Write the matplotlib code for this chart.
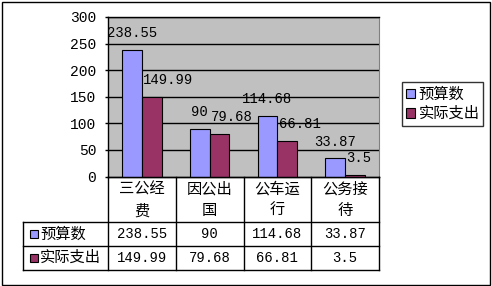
import matplotlib
matplotlib.use("Agg")
import matplotlib.pyplot as plt
from matplotlib.patches import Rectangle, Patch
from matplotlib import transforms

plt.rcParams['font.family'] = ['Noto Sans CJK SC', 'DejaVu Sans']

categories = ["三公经\n费", "因公出\n国", "公车运\n行", "公务接\n待"]
series_names = ["预算数", "实际支出"]
budget = [238.55, 90, 114.68, 33.87]
actual = [149.99, 79.68, 66.81, 3.5]
budget_labels = ["238.55", "90", "114.68", "33.87"]
actual_labels = ["149.99", "79.68", "66.81", "3.5"]
yticks = [0, 50, 100, 150, 200, 250, 300]

BLUE = "#9999FF"
MAROON = "#993366"
GRAY = "#C0C0C0"
NUMFONT = "Liberation Mono"

W, H = 492, 286
fig = plt.figure(figsize=(W / 100, H / 100), dpi=100)


def box(x0, y0, x1, y1):
    """pixel box (top-left origin) -> figure fraction rect"""
    return [x0 / W, 1 - y1 / H, (x1 - x0) / W, (y1 - y0) / H]


# outer chart border
fig.patches.append(Rectangle((1.5 / W, 1 - 285 / H), 488.5 / W, 283.5 / H,
                             transform=fig.transFigure, fill=False,
                             edgecolor="black", linewidth=1.0))

# ---- plot area ----
ax = fig.add_axes(box(108, 17, 379, 176.5))
ax.set_facecolor(GRAY)
ax.set_xlim(-0.5, len(categories) - 0.5)
ax.set_ylim(0, 300)
ax.set_yticks(yticks)
ax.set_yticklabels([str(t) for t in yticks], family=NUMFONT, fontsize=10.5)
ax.tick_params(axis="y", direction="out", length=2.5, width=1, pad=6)
ax.set_xticks([])
for y in yticks[1:]:
    ax.axhline(y, color="black", linewidth=1, zorder=1)
for s in ("left", "bottom", "top"):
    ax.spines[s].set_color("black")
    ax.spines[s].set_linewidth(1)
ax.spines["right"].set_color("#808080")

bw = 0.29
xs = list(range(len(categories)))
ax.bar([x - bw / 2 for x in xs], budget, width=bw, color=BLUE,
       edgecolor="black", linewidth=0.8, zorder=3)
ax.bar([x + bw / 2 for x in xs], actual, width=bw, color=MAROON,
       edgecolor="black", linewidth=0.8, zorder=3)

for x, v, t in zip(xs, budget, budget_labels):
    ax.annotate(t, (x - bw / 2, v), xytext=(0, 12), textcoords="offset points",
                ha="center", va="center", family=NUMFONT, fontsize=10,
                zorder=4, annotation_clip=False)
for x, v, t in zip(xs, actual, actual_labels):
    ax.annotate(t, (x, v), xytext=(1, 12), textcoords="offset points",
                ha="left", va="center", family=NUMFONT, fontsize=10,
                zorder=4, annotation_clip=False)

# ---- data table ----
tax = fig.add_axes(box(23, 176.5, 379, 269.5))
tax.set_xlim(23, 379)
tax.set_ylim(269.5, 176.5)
tax.axis("off")
tr = transforms.blended_transform_factory(ax.transData, tax.transData)

row_tops = [176.5, 222, 246, 269.5]
lw = 1.0
# horizontal rules
tax.plot([108, 379], [row_tops[0]] * 2, color="black", lw=lw, clip_on=False)
for y in row_tops[1:]:
    tax.plot([23, 379], [y, y], color="black", lw=lw, clip_on=False)
# vertical rules
tax.plot([23, 23], [row_tops[1], row_tops[3]], color="black", lw=lw, clip_on=False)
for b in [i - 0.5 for i in range(len(categories) + 1)]:
    tax.plot([b, b], [row_tops[0], row_tops[3]], color="black", lw=lw,
             transform=tr, clip_on=False)

for x, c in zip(xs, categories):
    tax.text(x, 200, c, transform=tr, ha="center", va="center",
             fontsize=11, linespacing=1.35)

row_centers = [(row_tops[1] + row_tops[2]) / 2, (row_tops[2] + row_tops[3]) / 2]
for rc, name, col, labels in zip(row_centers, series_names, [BLUE, MAROON],
                                 [budget_labels, actual_labels]):
    tax.add_patch(Rectangle((30, rc - 4), 8, 8, facecolor=col,
                            edgecolor="black", linewidth=0.8, clip_on=False))
    tax.text(40, rc, name, ha="left", va="center", fontsize=11)
    for x, t in zip(xs, labels):
        tax.text(x, rc, t, transform=tr, ha="center", va="center",
                 family=NUMFONT, fontsize=10)

# ---- legend ----
handles = [Patch(facecolor=BLUE, edgecolor="black", linewidth=0.8),
           Patch(facecolor=MAROON, edgecolor="black", linewidth=0.8)]
leg = fig.legend(handles, series_names, loc="center",
                 bbox_to_anchor=(442.5 / W, 1 - 104 / H),
                 fontsize=11, frameon=True, fancybox=False, shadow=False,
                 handlelength=0.6, handleheight=0.6, handletextpad=0.25,
                 borderpad=0.25, labelspacing=0.15, borderaxespad=0)
leg.get_frame().set_edgecolor("black")
leg.get_frame().set_linewidth(1)

fig.savefig("out.png", dpi=100)
